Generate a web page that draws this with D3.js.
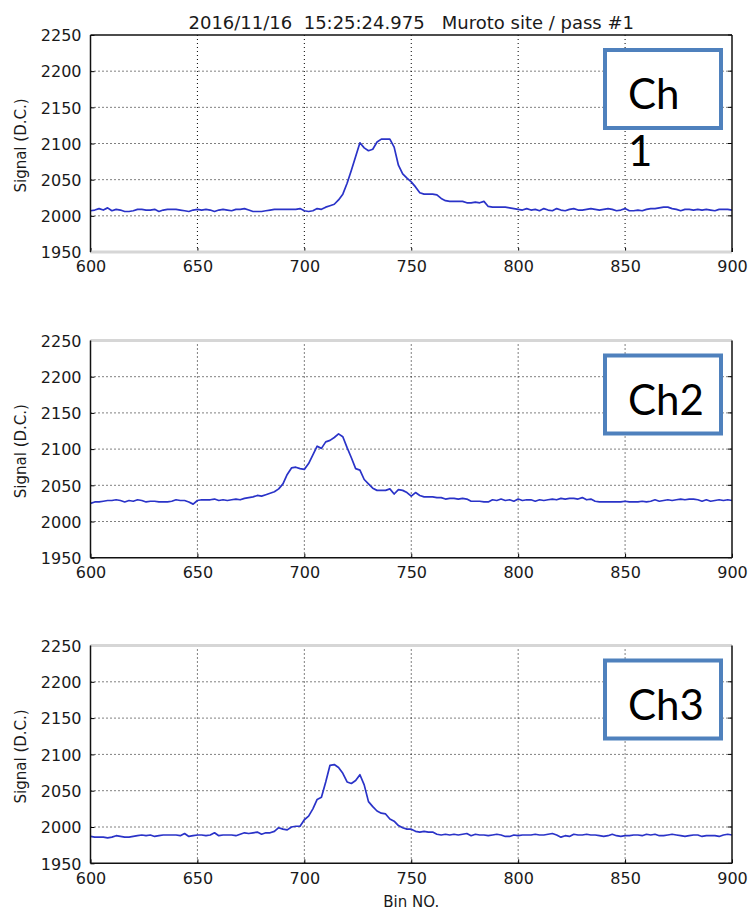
<!DOCTYPE html>
<html>
<head>
<meta charset="utf-8">
<script src="https://cdn.jsdelivr.net/npm/d3@7"></script>
<style>
  html, body { margin: 0; padding: 0; background: #fff; }
  svg { display: block; }
  .tick text { font-family: "DejaVu Sans", sans-serif; font-size: 16px; fill: #1a1a1a; }
  .tick line { stroke: #000; }
</style>
</head>
<body>
<div id="chart"></div>
<script>
// bins sampled every 2 from 600 to 900
const BINS = d3.range(600, 901, 2);

const CH1 = [
  2007, 2008, 2010, 2008, 2011, 2007, 2009, 2008, 2006, 2006,
  2007, 2009, 2009, 2008, 2008, 2009, 2006, 2008, 2009, 2009,
  2009, 2008, 2007, 2006, 2008, 2009, 2008, 2009, 2008, 2006,
  2008, 2009, 2008, 2007, 2009, 2009, 2010, 2008, 2006, 2006,
  2006, 2007, 2008, 2009, 2009, 2009, 2009, 2009, 2009, 2010,
  2007, 2006, 2007, 2010, 2009, 2012, 2014, 2016, 2022, 2030,
  2045, 2063, 2082, 2101, 2094, 2090, 2092, 2102, 2106, 2106,
  2106, 2095, 2070, 2058, 2052, 2047, 2040, 2032, 2030, 2030,
  2030, 2029, 2024, 2021, 2020, 2020, 2020, 2020, 2018, 2018,
  2019, 2018, 2020, 2013, 2012, 2012, 2012, 2012, 2011, 2010,
  2009, 2008, 2010, 2008, 2009, 2007, 2010, 2008, 2007, 2010,
  2008, 2007, 2009, 2010, 2008, 2008, 2009, 2010, 2009, 2008,
  2009, 2010, 2009, 2007, 2008, 2010, 2007, 2007, 2008, 2007,
  2009, 2010, 2010, 2011, 2012, 2012, 2010, 2009, 2007, 2009,
  2009, 2008, 2009, 2008, 2009, 2008, 2007, 2009, 2009, 2009,
  2008
];

const CH2 = [
  2025, 2027, 2027, 2028, 2029, 2029, 2030, 2029, 2027, 2029,
  2028, 2030, 2029, 2027, 2028, 2028, 2027, 2027, 2027, 2028,
  2030, 2029, 2029, 2027, 2024, 2029, 2030, 2030, 2030, 2031,
  2029, 2030, 2029, 2030, 2031, 2030, 2032, 2033, 2034, 2036,
  2035, 2037, 2039, 2041, 2045, 2052, 2065, 2074, 2075, 2073,
  2072, 2080, 2092, 2104, 2101, 2110, 2112, 2116, 2121, 2117,
  2102, 2088, 2073, 2071, 2058, 2052, 2046, 2043, 2043, 2043,
  2045, 2038, 2044, 2043, 2040, 2035, 2040, 2036, 2034, 2034,
  2034, 2033, 2033, 2031, 2032, 2032, 2031, 2032, 2031, 2028,
  2028, 2028, 2027, 2027, 2030, 2029, 2031, 2029, 2030, 2028,
  2031, 2029, 2030, 2030, 2028, 2030, 2029, 2030, 2031, 2030,
  2032, 2031, 2032, 2032, 2031, 2033, 2030, 2031, 2028, 2027,
  2027, 2027, 2027, 2027, 2027, 2028, 2027, 2027, 2027, 2028,
  2027, 2028, 2030, 2028, 2029, 2030, 2029, 2030, 2031, 2030,
  2031, 2031, 2030, 2028, 2030, 2028, 2029, 2030, 2029, 2030,
  2029
];

const CH3 = [
  1987, 1986, 1986, 1986, 1985, 1986, 1988, 1987, 1986, 1986,
  1987, 1988, 1989, 1988, 1989, 1987, 1988, 1989, 1989, 1989,
  1989, 1988, 1991, 1987, 1988, 1989, 1989, 1988, 1989, 1992,
  1988, 1989, 1989, 1989, 1988, 1990, 1992, 1991, 1992, 1993,
  1990, 1992, 1992, 1994, 1999, 1997, 1996, 2000, 2001, 2001,
  2010, 2015, 2025, 2038, 2041, 2062, 2085, 2086, 2082, 2074,
  2062, 2060, 2064, 2072, 2058, 2035, 2028, 2022, 2019, 2018,
  2011, 2008, 2002, 1999, 1997, 1997, 1994, 1993, 1994, 1993,
  1993, 1990, 1989, 1990, 1989, 1990, 1989, 1990, 1991, 1988,
  1990, 1989, 1989, 1988, 1989, 1990, 1989, 1987, 1987, 1989,
  1988, 1989, 1989, 1989, 1990, 1989, 1989, 1990, 1991, 1989,
  1986, 1988, 1987, 1990, 1989, 1989, 1990, 1989, 1989, 1988,
  1987, 1988, 1990, 1988, 1987, 1988, 1988, 1989, 1989, 1988,
  1990, 1989, 1990, 1988, 1988, 1989, 1990, 1989, 1988, 1987,
  1988, 1989, 1989, 1987, 1988, 1988, 1988, 1987, 1989, 1990,
  1989
];

const CHANNELS = [CH1, CH2, CH3];
const CH_LABELS = [['Ch', '1'], ['Ch2'], ['Ch3']];
const X_TICKS = [600, 650, 700, 750, 800, 850, 900];
const Y_TICKS = [1950, 2000, 2050, 2100, 2150, 2200, 2250];
const TITLE = '2016/11/16  15:25:24.975   Muroto site / pass #1';
const Y_LABEL = 'Signal (D.C.)';
const X_LABEL = 'Bin NO.';

const W = 749, H = 913;
const X_LEFT = 90.5, X_RIGHT = 732;
// [top, bottom] of each plot area
const PANELS = [[35, 252], [340.5, 557.7], [645.5, 863.3]];
// which spines got washed to grey in the scan
const GREY_TOP = [false, true, true];
const GREY_BOTTOM = [true, false, false];
const LINE_COLOR = '#2a33c8';
const BOX_COLOR = '#4f81bd';

const svg = d3.select('#chart').append('svg')
  .attr('width', W).attr('height', H);

const x = d3.scaleLinear().domain([600, 900]).range([X_LEFT, X_RIGHT]);
const fmt = d3.format('d');

svg.append('text')
  .attr('x', (X_LEFT + X_RIGHT) / 2)
  .attr('y', 29)
  .attr('text-anchor', 'middle')
  .style('white-space', 'pre')
  .style('font-family', '"DejaVu Sans", sans-serif')
  .style('font-size', '18px')
  .attr('fill', '#1a1a1a')
  .text(TITLE);

PANELS.forEach(([top, bottom], i) => {
  const y = d3.scaleLinear().domain([1950, 2250]).range([bottom, top]);
  const g = svg.append('g');

  // grid
  g.append('g').selectAll('line')
    .data(X_TICKS.slice(1, -1))
    .join('line')
    .attr('x1', d => x(d)).attr('x2', d => x(d))
    .attr('y1', top).attr('y2', bottom)
    .attr('stroke', '#000').attr('stroke-width', 1)
    .attr('stroke-dasharray', '1,3');
  g.append('g').selectAll('line')
    .data(Y_TICKS.slice(1, -1))
    .join('line')
    .attr('x1', X_LEFT).attr('x2', X_RIGHT)
    .attr('y1', d => y(d)).attr('y2', d => y(d))
    .attr('stroke', '#000').attr('stroke-width', 1)
    .attr('stroke-dasharray', '1,3');

  // signal
  const data = BINS.map((b, k) => [b, CHANNELS[i][k]]);
  g.append('path')
    .datum(data)
    .attr('fill', 'none')
    .attr('stroke', LINE_COLOR)
    .attr('stroke-width', 1.7)
    .attr('stroke-linejoin', 'round')
    .attr('d', d3.line().x(d => x(d[0])).y(d => y(d[1])));

  // axes, ticks pointing inward
  const ax = g.append('g')
    .attr('transform', `translate(${X_LEFT},0)`)
    .call(d3.axisLeft(y).tickValues(Y_TICKS).tickFormat(fmt).tickSize(-4).tickPadding(9));
  ax.select('.domain').remove();
  ax.selectAll('text').attr('dy', '0.36em');

  const bx = g.append('g')
    .attr('transform', `translate(0,${bottom})`)
    .call(d3.axisBottom(x).tickValues(X_TICKS).tickFormat(fmt).tickSize(-4).tickPadding(9));
  bx.select('.domain').remove();

  // right side ticks
  g.append('g').selectAll('line')
    .data(Y_TICKS)
    .join('line')
    .attr('x1', X_RIGHT - 4).attr('x2', X_RIGHT)
    .attr('y1', d => y(d)).attr('y2', d => y(d))
    .attr('stroke', '#000');

  // spines
  g.append('line')
    .attr('x1', X_LEFT).attr('x2', X_RIGHT).attr('y1', top).attr('y2', top)
    .attr('stroke', GREY_TOP[i] ? '#d6d6d6' : '#111')
    .attr('stroke-width', GREY_TOP[i] ? 3 : 1.5);
  g.append('line')
    .attr('x1', X_LEFT).attr('x2', X_RIGHT).attr('y1', bottom).attr('y2', bottom)
    .attr('stroke', GREY_BOTTOM[i] ? '#d6d6d6' : '#111')
    .attr('stroke-width', GREY_BOTTOM[i] ? 3 : 1.5);
  g.append('line')
    .attr('x1', X_LEFT).attr('x2', X_LEFT).attr('y1', top).attr('y2', bottom)
    .attr('stroke', '#111').attr('stroke-width', 1.5);
  g.append('line')
    .attr('x1', X_RIGHT).attr('x2', X_RIGHT).attr('y1', top).attr('y2', bottom)
    .attr('stroke', '#111').attr('stroke-width', 1.5);

  // y label
  g.append('text')
    .attr('transform', `translate(26,${(top + bottom) / 2 + 2}) rotate(-90)`)
    .attr('text-anchor', 'middle')
    .style('font-family', '"DejaVu Sans", sans-serif')
    .style('font-size', '15px')
    .attr('fill', '#1a1a1a')
    .text(Y_LABEL);

  // channel box
  const boxTop = top + 15;
  g.append('rect')
    .attr('x', 605).attr('y', boxTop)
    .attr('width', 116).attr('height', 78)
    .attr('fill', '#fff')
    .attr('stroke', BOX_COLOR).attr('stroke-width', 4);
  CH_LABELS[i].forEach((t, j) => {
    g.append('text')
      .attr('x', 628)
      .attr('y', boxTop + 59 + j * 57)
      .style('font-family', 'Lato, "Open Sans", sans-serif')
      .style('font-size', '42px')
      .attr('fill', '#000')
      .text(t);
  });
});

svg.append('text')
  .attr('x', x(750))
  .attr('y', 907)
  .attr('text-anchor', 'middle')
  .style('font-family', '"DejaVu Sans", sans-serif')
  .style('font-size', '15px')
  .attr('fill', '#1a1a1a')
  .text(X_LABEL);
</script>
</body>
</html>
